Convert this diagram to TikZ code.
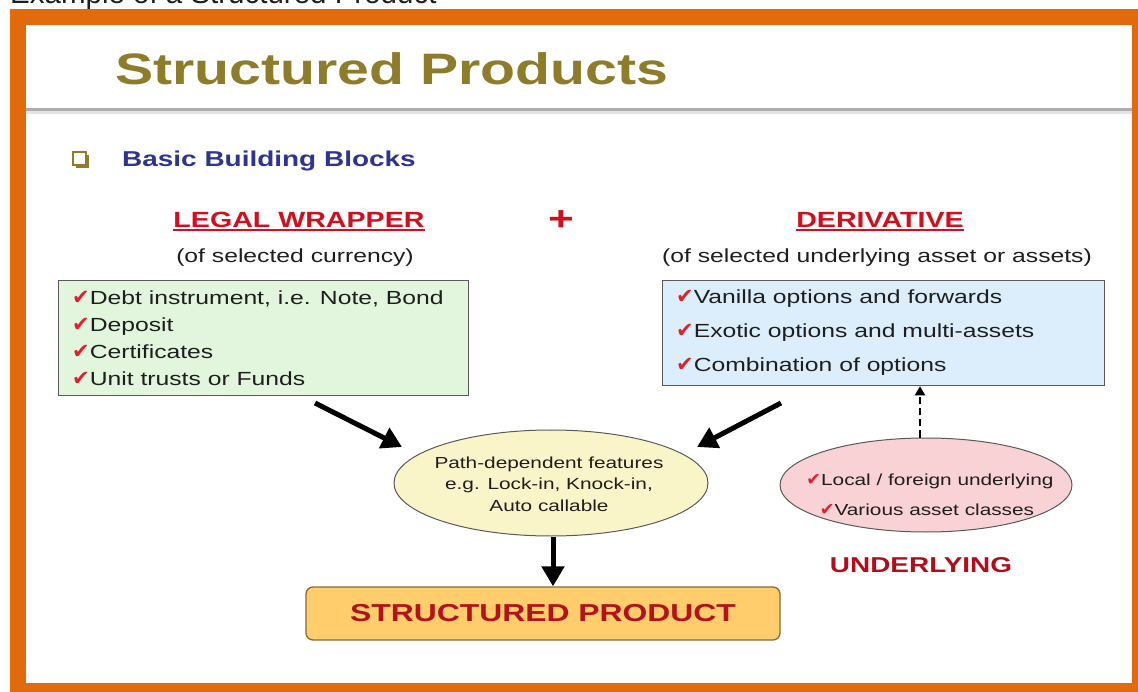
\documentclass[tikz,border=0pt]{standalone}
\usepackage{fontspec}
\setmainfont{Liberation Sans}[FakeStretch=1.3]
\newfontfamily\capfont{Liberation Sans}
\newfontfamily\symfont{DejaVu Sans}
\usetikzlibrary{arrows.meta,shapes.geometric}
\definecolor{framec}{HTML}{E06A0C}
\definecolor{titlec}{HTML}{8E7C2B}
\definecolor{headblue}{HTML}{2E3492}
\definecolor{headred}{HTML}{D0101E}
\definecolor{ckred}{HTML}{E0202A}
\definecolor{txt}{HTML}{1E1E1E}
\definecolor{greenfill}{HTML}{E2F5DD}
\definecolor{bluefill}{HTML}{DCEEFB}
\definecolor{yellowfill}{HTML}{FAF5C8}
\definecolor{pinkfill}{HTML}{F8D2D5}
\definecolor{spfill}{HTML}{FFCD6C}
\definecolor{spborder}{HTML}{8A6A3A}
\definecolor{sptext}{HTML}{B3121B}
\definecolor{boxborder}{HTML}{5A5A5A}
\newcommand{\fsz}[1]{\fontsize{#1}{#1}\selectfont}
\newcommand{\ck}{{\symfont\fontsize{21}{21}\selectfont\color{ckred}✔}}
\newcommand{\cks}{{\symfont\fontsize{17.5}{17.5}\selectfont\color{ckred}✔}}
\begin{document}
\begin{tikzpicture}[x=1pt,y=-1pt,
  txtnode/.style={inner sep=0pt, text=txt},
  item/.style={txtnode, anchor=base west, font=\fsz{19}},
  head/.style={inner sep=0pt, anchor=base, font=\bfseries\fsz{22}, text=headred},
  sub/.style={txtnode, anchor=base, font=\fsz{19}},
  listbox/.style={draw=boxborder, line width=1.3pt, inner sep=0pt, anchor=north west},
  oval/.style={ellipse, draw=boxborder, line width=1pt, inner sep=0pt},
  bigarrow/.style={line width=5pt, -{Triangle[length=20pt,width=22pt]}},
  dasharrow/.style={line width=2.5pt, dash pattern=on 7pt off 4pt, -{Triangle[length=9pt,width=10pt]}}
]
\useasboundingbox (0,0) rectangle (1138,692);
\clip (0,0) rectangle (1138,692);
\fill[white] (0,0) rectangle (1138,692);
% caption (cut off at the top in the reference)
\node[inner sep=0pt, anchor=base west, font=\capfont\fsz{29.5}, text=txt] (caption) at (10,4) {Example of a Structured Product};
% frame
\fill[framec] (10,9) rectangle (1138,692);
\fill[white] (26,25) rectangle (1132,683);
% title
\node[inner sep=0pt, anchor=base west, font=\bfseries\fsz{44}, text=titlec] (title) at (115,85) {Structured Products};
\fill[gray!65] (26,108) rectangle (1132,111);
\fill[gray!22] (26,111) rectangle (1132,114);
% bullet heading
\fill[titlec] (76,155) rectangle (89,168);
\filldraw[fill=white, draw=titlec, line width=1.3pt] (73,152) rectangle (86,165);
\node[inner sep=0pt, anchor=base west, font=\bfseries\fsz{21.5}, text=headblue] (bbb) at (122,167) {Basic Building Blocks};
% headings
\node[head] (lw) at (299,228) {LEGAL WRAPPER};
\draw[headred, line width=2pt] ([yshift=-2.5pt]lw.base west) -- ([yshift=-2.5pt]lw.base east);
\node[head] (der) at (880,228) {DERIVATIVE};
\draw[headred, line width=2pt] ([yshift=-2.5pt]der.base west) -- ([yshift=-2.5pt]der.base east);
\node[inner sep=0pt, font=\bfseries\fsz{34}, text=headred] (plus) at (561,221) {+};
\node[sub] (lwsub) at (295,263) {(of selected currency)};
\node[sub] (dersub) at (877,263) {(of selected underlying asset or assets)};
% green list box
\node[listbox, fill=greenfill, minimum width=410pt, minimum height=115pt] (gbox) at (58,280) {};
\node[item] (g1) at (72,305) {\ck Debt instrument, i.e. Note, Bond};
\node[item] (g2) at (72,332) {\ck Deposit};
\node[item] (g3) at (72,359) {\ck Certificates};
\node[item] (g4) at (72,386) {\ck Unit trusts or Funds};
% blue list box
\node[listbox, fill=bluefill, minimum width=442pt, minimum height=105pt] (bbox) at (662,280) {};
\node[item] (b1) at (676,304) {\ck Vanilla options and forwards};
\node[item] (b2) at (676,338) {\ck Exotic options and multi-assets};
\node[item] (b3) at (676,372) {\ck Combination of options};
% path-dependent ellipse
\node[oval, fill=yellowfill, minimum width=314pt, minimum height=106pt] (pd) at (551,483) {};
\node[txtnode, align=center, font=\fontsize{16}{21.5}\selectfont] (pdtext) at (549,484) {Path-dependent features\\e.g. Lock-in, Knock-in,\\Auto callable};
% underlying ellipse
\node[oval, fill=pinkfill, minimum width=292pt, minimum height=94pt] (ul) at (926,485) {};
\node[txtnode, anchor=base, font=\fsz{16}] (u1) at (930,485) {\cks Local / foreign underlying};
\node[txtnode, anchor=base, font=\fsz{16}] (u2) at (927,515) {\cks Various asset classes};
\node[inner sep=0pt, anchor=base, font=\bfseries\fsz{21.5}, text=headred!85!black] (ulabel) at (921,572) {UNDERLYING};
% structured product box
\node[draw=spborder, line width=1.3pt, fill=spfill, rounded corners=7pt, minimum width=474pt, minimum height=53pt, inner sep=0pt, font=\bfseries\fsz{24.5}, text=sptext] (sp) at (543,613.5) {STRUCTURED PRODUCT};
% connectors
\coordinate (la1) at (315,403);
\coordinate (la2) at (402,447);
\coordinate (ra1) at (781,403);
\coordinate (ra2) at (697,447);
\draw[bigarrow] (la1) -- (la2);
\draw[bigarrow] (ra1) -- (ra2);
\coordinate (dtop) at ([xshift=2pt]pd.south);
\draw[bigarrow] (dtop) -- (dtop |- sp.north);
\coordinate (dstart) at ([xshift=-6pt]ul.north);
\draw[dasharrow] (dstart) -- (dstart |- bbox.south);
\end{tikzpicture}
\end{document}
